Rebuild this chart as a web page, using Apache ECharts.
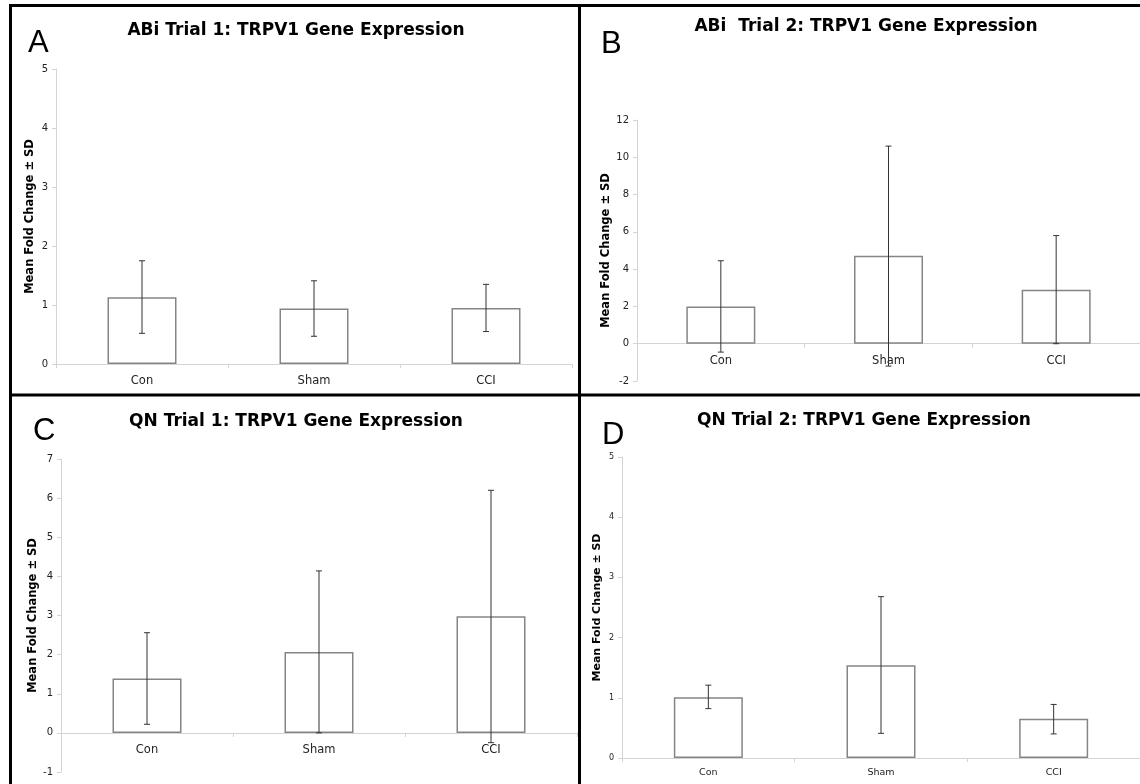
<!DOCTYPE html>
<html>
<head>
<meta charset="utf-8">
<script src="https://cdn.jsdelivr.net/npm/echarts@6/dist/echarts.min.js"></script>
<style>
  html, body { margin: 0; padding: 0; background: #fff; }
  #main { width: 1140px; height: 784px; }
</style>
</head>
<body>
<div id="main"></div>
<script>
// groups on the x axis
var categories = ['Con', 'Sham', 'CCI'];

// A: ABi trial 1
var aMean = [1.13, 0.94, 0.95];
var aLow  = [0.52, 0.47, 0.55];
var aHigh = [1.75, 1.41, 1.35];
// B: ABi trial 2
var bMean = [2.0, 4.72, 2.9];
var bLow  = [-0.45, -1.2, 0];
var bHigh = [4.45, 10.6, 5.8];
// C: QN trial 1
var cMean = [1.39, 2.07, 2.98];
var cLow  = [0.22, 0, -0.25];
var cHigh = [2.56, 4.14, 6.2];
// D: QN trial 2
var dMean = [1.01, 1.54, 0.65];
var dLow  = [0.82, 0.41, 0.40];
var dHigh = [1.21, 2.68, 0.89];

// y axis ranges (min, max, interval)
var aRange = [0, 5, 1];
var bRange = [-2, 12, 2];
var cRange = [-1, 7, 1];
var dRange = [0, 5, 1];

var titles = ['ABi Trial 1: TRPV1 Gene Expression', 'ABi  Trial 2: TRPV1 Gene Expression',
              'QN Trial 1: TRPV1 Gene Expression', 'QN Trial 2: TRPV1 Gene Expression'];
var letters = ['A', 'B', 'C', 'D'];
var yName = 'Mean Fold Change \u00b1 SD';

var panels = [
  {mean: aMean, low: aLow, high: aHigh, range: aRange, grid: {left: 56, top: 69, width: 516, height: 295}, tx: 296, ty: 32, lx: 28, ly: 43, small: false},
  {mean: bMean, low: bLow, high: bHigh, range: bRange, grid: {left: 637, top: 120, width: 507, height: 261}, tx: 866, ty: 28, lx: 601, ly: 44, small: false},
  {mean: cMean, low: cLow, high: cHigh, range: cRange, grid: {left: 61, top: 459, width: 516, height: 313}, tx: 296, ty: 423, lx: 33, ly: 431, small: false},
  {mean: dMean, low: dLow, high: dHigh, range: dRange, grid: {left: 622, top: 457, width: 523, height: 301}, tx: 864, ty: 422, lx: 602, ly: 435, small: true}
];

var grids = [], xAxes = [], yAxes = [], series = [], titleList = [], graphics = [];

function errBar(params, api) {
  var x = api.value(0);
  var lo = api.coord([x, api.value(1)]);
  var hi = api.coord([x, api.value(2)]);
  var w = 3;
  var st = {stroke: '#333', lineWidth: 1};
  return {type: 'group', children: [
    {type: 'line', shape: {x1: hi[0], y1: hi[1], x2: lo[0], y2: lo[1]}, style: st},
    {type: 'line', shape: {x1: hi[0] - w, y1: hi[1], x2: hi[0] + w, y2: hi[1]}, style: st},
    {type: 'line', shape: {x1: lo[0] - w, y1: lo[1], x2: lo[0] + w, y2: lo[1]}, style: st}
  ]};
}

panels.forEach(function (p, i) {
  grids.push(p.grid);
  // x axis sits on the zero line, labels follow it
  var zeroShift = -p.grid.height * (0 - p.range[0]) / (p.range[1] - p.range[0]);
  xAxes.push({
    type: 'category', gridIndex: i, data: categories, offset: zeroShift,
    axisLine: {onZero: false, lineStyle: {color: '#d4d4d4', width: 1}},
    axisTick: {show: true, length: 4, lineStyle: {color: '#d4d4d4'}},
    axisLabel: {color: '#222', fontFamily: 'DejaVu Sans', fontSize: p.small ? 9.5 : 11.5, margin: p.small ? 10 : 11}
  });
  yAxes.push({
    type: 'value', gridIndex: i, min: p.range[0], max: p.range[1], interval: p.range[2],
    name: yName, nameLocation: 'middle', nameRotate: 90, nameGap: p.small ? 19 : 20,
    nameTextStyle: {color: '#000', fontFamily: 'DejaVu Sans', fontWeight: 'bold', fontSize: p.small ? 11 : 11.5},
    axisLine: {show: true, lineStyle: {color: '#d4d4d4', width: 1}},
    axisTick: {show: true, length: 4, lineStyle: {color: '#d4d4d4'}},
    splitLine: {show: false},
    axisLabel: {color: '#222', fontFamily: 'DejaVu Sans', fontSize: p.small ? 8 : 10, margin: 8}
  });
  series.push({
    type: 'bar', xAxisIndex: i, yAxisIndex: i, data: p.mean, barWidth: 69,
    itemStyle: {color: '#fff', borderColor: '#858585', borderWidth: 1.5},
    animation: false
  });
  series.push({
    type: 'custom', xAxisIndex: i, yAxisIndex: i, renderItem: errBar, z: 5,
    encode: {x: 0, y: [1, 2]},
    data: p.mean.map(function (m, k) { return [k, p.low[k], p.high[k]]; }),
    animation: false
  });
  titleList.push({
    text: titles[i], left: p.tx, top: p.ty - 10, textAlign: 'center', padding: 0,
    textStyle: {fontFamily: 'DejaVu Sans', fontWeight: 'bold', fontSize: 17, color: '#000'}
  });
  graphics.push({
    type: 'text', x: p.lx, y: p.ly,
    style: {text: letters[i], font: '31px "Liberation Sans"', fill: '#000', textVerticalAlign: 'middle', verticalAlign: 'middle'}
  });
});

// panel frame lines
var frame = [[10, 5.5, 1140, 5.5], [10.5, 4, 10.5, 784], [579.5, 4, 579.5, 784], [10, 395, 1140, 395]];
frame.forEach(function (f) {
  graphics.push({type: 'line', shape: {x1: f[0], y1: f[1], x2: f[2], y2: f[3]}, style: {stroke: '#000', lineWidth: 3}, z: 100});
});

var myChart = echarts.init(document.getElementById('main'));
myChart.setOption({
  animation: false,
  title: titleList,
  grid: grids,
  xAxis: xAxes,
  yAxis: yAxes,
  series: series,
  graphic: graphics
});
</script>
</body>
</html>
